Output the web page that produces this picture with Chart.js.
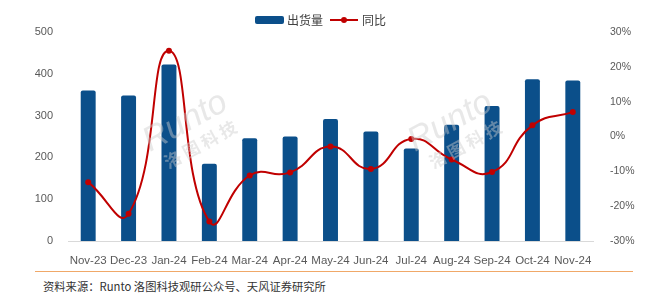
<!DOCTYPE html>
<html>
<head>
<meta charset="utf-8">
<script src="https://cdn.jsdelivr.net/npm/chart.js@4.4.0/dist/chart.umd.min.js"></script>
<style>
  html, body { margin: 0; padding: 0; background: #fff; }
  #wrap { position: relative; width: 653px; height: 298px; overflow: hidden; font-family: "Liberation Sans", Arial, sans-serif; }
  #chartBox { position: absolute; left: 0; top: 0; width: 653px; height: 268px; }
  .legend { position: absolute; top: 11px; font-family: "Noto Sans CJK SC", sans-serif; font-size: 12px; color: #404040; display: flex; align-items: center; }
  .swatch-bar { width: 29px; height: 8px; background: #0B4F8A; border-radius: 2px; margin-right: 3px; }
  .swatch-line { position: relative; width: 28px; height: 2px; background: #C00000; margin-right: 4px; }
  .swatch-line::after { content: ""; position: absolute; left: 11px; top: -2px; width: 6px; height: 6px; border-radius: 50%; background: #C00000; }
  #rule { position: absolute; left: 35px; top: 271px; width: 598px; height: 1px; background: #F0A868; }
  #source { position: absolute; left: 43px; top: 278px; font-family: "Noto Sans CJK SC", sans-serif; font-size: 11.3px; color: #333; }
</style>
</head>
<body>
<div id="wrap">
  <div id="chartBox"><canvas id="c" width="653" height="268"></canvas></div>
  <div class="legend" style="left:255px"><div class="swatch-bar"></div>出货量</div>
  <div class="legend" style="left:330px"><div class="swatch-line"></div>同比</div>
  <div id="rule"></div>
  <div id="source">资料来源：Runto 洛图科技观研公众号、天风证券研究所</div>
</div>
<script>
// Monthly shipments (bars, left axis) and YoY change (line, right axis, %)
const MONTHS = ['Nov-23', 'Dec-23', 'Jan-24', 'Feb-24', 'Mar-24', 'Apr-24', 'May-24',
                'Jun-24', 'Jul-24', 'Aug-24', 'Sep-24', 'Oct-24', 'Nov-24'];
const SHIPMENTS = [360, 348, 422, 185, 246, 250, 292, 262, 221, 278, 323, 387, 384];
const YOY = [-13.1, -22.2, 24.6, -24.4, -11.2, -10.3, -2.9, -9.3, -0.7, -6.6, -10.2, 3.2, 7.0];
const LEFT_TICKS = [0, 100, 200, 300, 400, 500];
const RIGHT_TICKS = [-30, -20, -10, 0, 10, 20, 30];

const BAR_BLUE = '#0B4F8A';
const LINE_RED = '#C00000';
const TICK_GREY = '#595959';

// ── faint "Runto 洛图科技" watermarks ───────────────────────────
const watermark = {
  id: 'watermark',
  afterDatasetsDraw(chart) {
    const ctx = chart.ctx;
    const marks = [[150, 152], [415, 152]];
    ctx.save();
    marks.forEach(([x, y]) => {
      ctx.save();
      ctx.translate(x, y);
      ctx.rotate(-0.5);
      ctx.fillStyle = 'rgba(205,205,205,0.45)';
      ctx.font = 'italic 34px "Liberation Sans", sans-serif';
      ctx.textBaseline = 'alphabetic';
      ctx.fillText('Runto', 0, 0);
      ctx.font = 'bold 17px "Noto Sans CJK SC", sans-serif';
      ctx.fillText('洛 图 科 技', 8, 24);
      ctx.restore();
    });
    ctx.restore();
  }
};

function initChart() {
  const ctx = document.getElementById('c').getContext('2d');
  new Chart(ctx, {
    data: {
      labels: MONTHS,
      datasets: [
        {
          type: 'line',
          label: '同比',
          data: YOY,
          yAxisID: 'y1',
          borderColor: LINE_RED,
          backgroundColor: LINE_RED,
          borderWidth: 2,
          tension: 0.5,
          pointRadius: 3,
          pointBackgroundColor: LINE_RED,
          pointBorderWidth: 0,
          order: 0,
        },
        {
          type: 'bar',
          label: '出货量',
          data: SHIPMENTS,
          yAxisID: 'y',
          backgroundColor: BAR_BLUE,
          barPercentage: 0.37,
          categoryPercentage: 1,
          borderRadius: 2,
          borderSkipped: 'bottom',
          order: 1,
        }
      ]
    },
    options: {
      responsive: false,
      animation: false,
      layout: { padding: { top: 32, left: 0, right: 0, bottom: 0 } },
      plugins: { legend: { display: false }, tooltip: { enabled: false } },
      scales: {
        x: {
          grid: { display: false },
          border: { display: true, color: '#D9D9D9', width: 1 },
          ticks: { color: TICK_GREY, font: { family: '"Liberation Sans", Arial, sans-serif', size: 11.5 }, padding: 5, maxRotation: 0, autoSkip: false },
          afterFit(s) { s.height = 27; }
        },
        y: {
          position: 'left',
          min: LEFT_TICKS[0],
          max: LEFT_TICKS[LEFT_TICKS.length - 1],
          afterBuildTicks(s) { s.ticks = LEFT_TICKS.map(v => ({ value: v })); },
          grid: { display: false },
          border: { display: false },
          ticks: { color: TICK_GREY, font: { family: '"Liberation Sans", Arial, sans-serif', size: 11 }, padding: 7 },
          afterFit(s) { s.width = 68; }
        },
        y1: {
          position: 'right',
          min: RIGHT_TICKS[0],
          max: RIGHT_TICKS[RIGHT_TICKS.length - 1],
          afterBuildTicks(s) { s.ticks = RIGHT_TICKS.map(v => ({ value: v })); },
          grid: { display: false },
          border: { display: false },
          ticks: {
            color: TICK_GREY,
            font: { family: '"Liberation Sans", Arial, sans-serif', size: 10.5 },
            padding: 9,
            callback: v => v + '%'
          },
          afterFit(s) { s.width = 60; }
        }
      }
    },
    plugins: [watermark]
  });
}

initChart();
</script>
</body>
</html>
